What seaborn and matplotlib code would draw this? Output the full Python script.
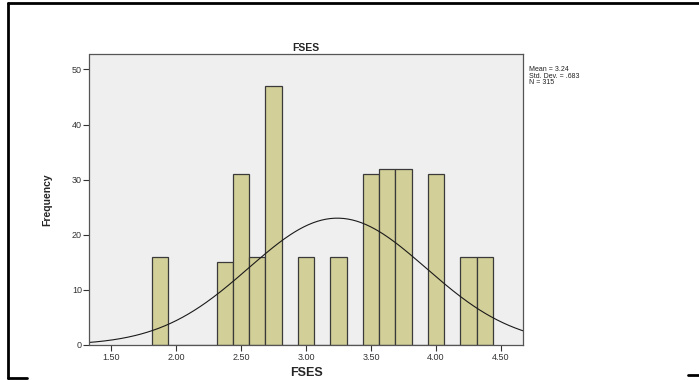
import numpy as np
import pandas as pd
import seaborn as sns
import matplotlib.pyplot as plt
from matplotlib.lines import Line2D

# FSES score values (bin centres) and their frequencies
fses_values = [1.875, 2.375, 2.5, 2.625, 2.75, 3.0, 3.25, 3.5, 3.625, 3.75, 4.0, 4.25, 4.375]
frequencies = [16, 15, 31, 16, 47, 16, 16, 31, 32, 32, 31, 16, 16]
x_ticks = [1.5, 2.0, 2.5, 3.0, 3.5, 4.0, 4.5]
y_ticks = [0, 10, 20, 30, 40, 50]

sns.set_style('white')
plt.rcParams['font.family'] = ['Liberation Sans', 'DejaVu Sans']

df = pd.DataFrame({'FSES': fses_values, 'freq': frequencies})
vals = df['FSES'].to_numpy()
cnts = df['freq'].to_numpy()
n = cnts.sum()
mean = np.sum(vals * cnts) / n
sd = np.sqrt(np.sum(cnts * (vals - mean) ** 2) / (n - 1))
bw = 0.125

fig = plt.figure(figsize=(6.99, 3.80), dpi=100)
ax = fig.add_axes([89.5 / 699, 35 / 380, (523 - 89.5) / 699, (345 - 54) / 380])
ax.set_facecolor('#efefef')

sns.histplot(data=df, x='FSES', weights='freq', binwidth=bw,
             binrange=(vals.min() - bw / 2, vals.max() + bw / 2),
             color='#d3cf98', alpha=1, edgecolor='#3a3a3a', linewidth=0.9, ax=ax)

# fitted normal curve
xs = np.linspace(1.3, 4.7, 300)
ys = n * bw * np.exp(-0.5 * ((xs - mean) / sd) ** 2) / (sd * np.sqrt(2 * np.pi))
sns.lineplot(x=xs, y=ys, color='#1a1a1a', linewidth=0.8, ax=ax)

ax.set_xlim(1.335, 4.669)
ax.set_ylim(0, 52.8)
ax.set_xticks(x_ticks)
ax.set_xticklabels([f'{t:.2f}' for t in x_ticks])
ax.set_yticks(y_ticks)
ax.tick_params(axis='both', labelsize=6.5, colors='#333333', length=4, width=0.8,
               direction='out', bottom=True, left=True, pad=1.5)
for s in ax.spines.values():
    s.set_color('#555555')
    s.set_linewidth(0.9)

ax.set_title('FSES', fontsize=7.5, fontweight='bold', pad=2)
ax.set_xlabel('FSES', fontsize=9, fontweight='bold', labelpad=4)
ax.set_ylabel('Frequency', fontsize=7.5, fontweight='bold', labelpad=14)

fig.text(529 / 699, 1 - 66 / 380,
         f'Mean = {mean:.2f}\nStd. Dev. = {sd:.3f}'.replace('0.', '.') + f'\nN = {n}',
         fontsize=5, va='top', ha='left', linespacing=0.9, color='#222222')

# outer frame pieces
fig.add_artist(Line2D([8 / 699, 1], [1 - 3 / 380] * 2, color='black', lw=2, transform=fig.transFigure))
fig.add_artist(Line2D([8 / 699] * 2, [1 - 3 / 380, 2 / 380], color='black', lw=2, transform=fig.transFigure))
fig.add_artist(Line2D([8 / 699, 27 / 699], [2 / 380] * 2, color='black', lw=2, transform=fig.transFigure))
fig.add_artist(Line2D([688 / 699, 1], [5 / 380] * 2, color='black', lw=2, transform=fig.transFigure))

fig.savefig('out.png', dpi=100)
